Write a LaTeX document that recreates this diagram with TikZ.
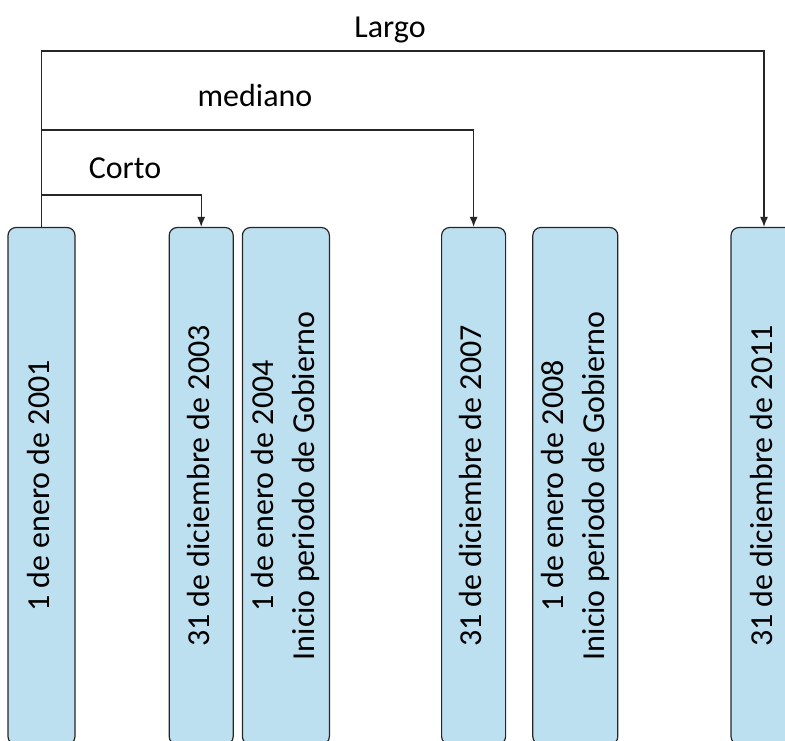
\documentclass[tikz,border=0pt]{standalone}
\usepackage{fontspec}
\setmainfont{Carlito}
\usetikzlibrary{arrows.meta,positioning}
\definecolor{boxblue}{RGB}{189,224,240}
\newcommand{\datetext}[1]{\rotatebox{90}{\begin{tabular}{@{}c@{}}#1\end{tabular}}}

\begin{document}
\begin{tikzpicture}[>={Latex[length=5pt,width=4pt]}, x=0.5pt, y=-0.5pt]
        \tikzset{date/.style= {draw=black!85, fill=boxblue, rectangle, rounded corners=4pt, line width=0.6pt, inner sep=0pt, minimum width=#1, minimum height=258.5pt},
                 term/.style= {inner sep=0pt},
                 link/.style= {draw=black!85, line width=0.6pt},
        }
        \fontsize{16}{20.5}\selectfont
        \useasboundingbox (0,0) rectangle (785,740);
        \clip (0,0) rectangle (785,740);

        \node [date=33.5pt] (B1) at (41.5,486) {\datetext{1 de enero de 2001}};
        \node [date=32pt, right = 46.5pt of B1] (B2) {\datetext{31 de diciembre de 2003}};
        \node [date=43.5pt, right = 4pt of B2] (B3) {\datetext{1 de enero de 2004\\Inicio periodo de Gobierno}};
        \node [date=32pt, right = 55.5pt of B3] (B4) {\datetext{31 de diciembre de 2007}};
        \node [date=42.5pt, right = 13pt of B4] (B5) {\datetext{1 de enero de 2008\\Inicio periodo de Gobierno}};
        \node [date=33pt, right = 56pt of B5] (B6) {\datetext{31 de diciembre de 2011}};

        \node [coordinate, above = 88pt of B1.north] (LUL){};
        \node [coordinate, above = 48.5pt of B1.north] (MUL){};
        \node [coordinate, above = 16pt of B1.north] (CUL){};

        \node [term] (largo) at (390,30) {Largo};
        \node [term] (mediano) at (255,96) {mediano};
        \node [term] (corto) at (125,168) {Corto};

        \path[link, ->] (B1.north) -- (LUL) -| (B6.north);
        \path[link, ->] (MUL) -| (B4.north);
        \path[link, ->] (CUL) -| (B2.north);
    \end{tikzpicture}
\end{document}
